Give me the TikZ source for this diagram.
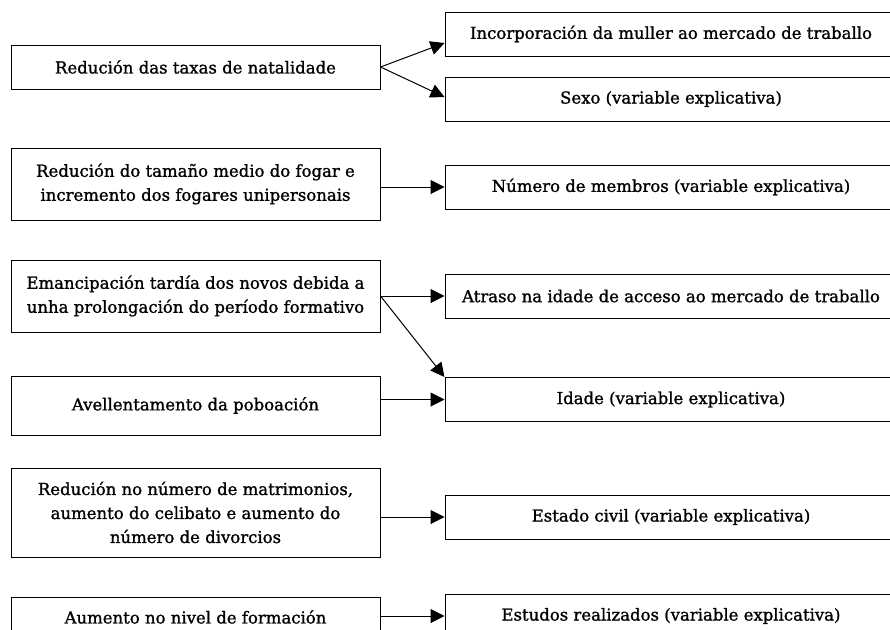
\documentclass[tikz,border=0pt]{standalone}
\usepackage{fontspec}
\setmainfont[FakeBold=1.2]{DejaVu Serif}
\usetikzlibrary{positioning,arrows.meta}

\begin{document}
\begin{tikzpicture}[x=1pt, y=-1pt, node distance=64pt]
    \tikzset{
        causebox/.style = {rectangle, line width=1pt, minimum width=369pt, align=center, draw=black, fill=white, font=\fontsize{16.5}{24}\selectfont},
        effectbox/.style = {rectangle, line width=1pt, minimum width=452pt, minimum height=44pt, text centered, draw=black, fill=white, font=\fontsize{16.5}{24}\selectfont},
        arrow/.style = {line width=1pt, -{Triangle[length=14pt, width=14pt]}},
    }
    \useasboundingbox (0,0) rectangle (890,629);
    \clip (0,0) rectangle (890,629);

    % left column
    \node (natalidade) [causebox, minimum height=44pt] at (195.5,67) {Redución das taxas de natalidade};
    \node (fogar) [causebox, minimum height=72pt, below=58pt of natalidade] {Redución do tamaño medio do fogar e\\incremento dos fogares unipersonais};
    \node (emancipacion) [causebox, minimum height=72pt, below=39pt of fogar] {Emancipación tardía dos novos debida a\\unha prolongación do período formativo};
    \node (avellentamento) [causebox, minimum height=59pt, below=43pt of emancipacion] {Avellentamento da poboación};
    \node (matrimonios) [causebox, minimum height=89pt, below=32pt of avellentamento] {Redución no número de matrimonios,\\aumento do celibato e aumento do\\número de divorcios};
    \node (formacion) [causebox, minimum height=40pt, below=39pt of matrimonios] {Aumento no nivel de formación};

    % right column
    \node (muller) [effectbox, right=64pt of natalidade, yshift=33pt] {Incorporación da muller ao mercado de traballo};
    \node (sexo) [effectbox, right=64pt of natalidade, yshift=-32pt] {Sexo (variable explicativa)};
    \node (membros) [effectbox, right=64pt of fogar, yshift=-3pt] {Número de membros (variable explicativa)};
    \node (atraso) [effectbox, right=64pt of emancipacion] {Atraso na idade de acceso ao mercado de traballo};
    \node (idade) [effectbox, right=64pt of avellentamento, yshift=6pt] {Idade (variable explicativa)};
    \node (estadocivil) [effectbox, right=64pt of matrimonios, yshift=-4.5pt] {Estado civil (variable explicativa)};
    \node (estudos) [effectbox, right=64pt of formacion, yshift=1pt] {Estudos realizados (variable explicativa)};

    \draw [arrow] (natalidade.east) -- ([yshift=-9pt]muller.west);
    \draw [arrow] (natalidade.east) -- ([yshift=2pt]sexo.west);
    \draw [arrow] (fogar.east |- membros) -- (membros);
    \draw [arrow] (emancipacion) -- (atraso);
    \draw [arrow] (emancipacion.east) -- (idade.north west);
    \draw [arrow] (avellentamento.east |- idade) -- (idade);
    \draw [arrow] (matrimonios.east |- estadocivil) -- (estadocivil);
    \draw [arrow] (formacion.east |- estudos) -- (estudos);
\end{tikzpicture}
\end{document}
